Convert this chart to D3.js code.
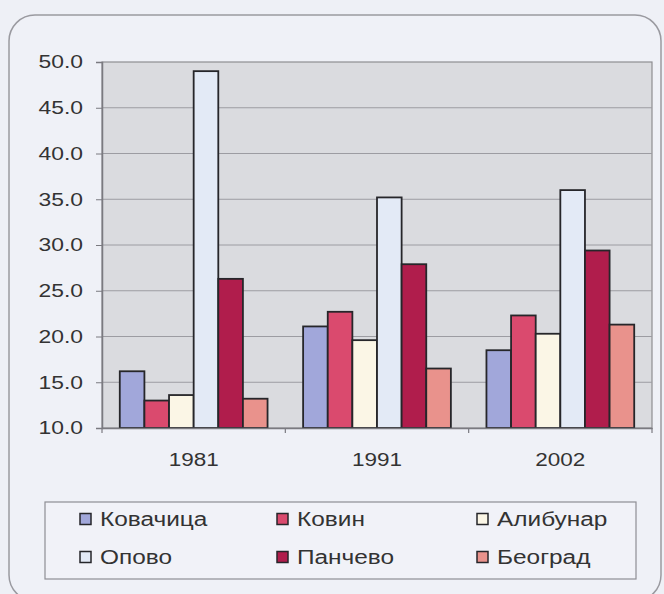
<!DOCTYPE html>
<html><head><meta charset="utf-8">
<script src="https://cdn.jsdelivr.net/npm/d3@7"></script>
<style>
html,body{margin:0;padding:0;background:#eef0f6;}
svg{display:block;}
text{font-family:"Liberation Sans",Arial,sans-serif;fill:#333;}
</style></head>
<body>
<svg id="chart" width="664" height="594"></svg>
<script>
const years = ["1981", "1991", "2002"];
const seriesNames = ["Ковачица", "Ковин", "Алибунар", "Опово", "Панчево", "Београд"];
const kovacica = [16.2, 21.1, 18.5];
const kovin = [13.0, 22.7, 22.3];
const alibunar = [13.6, 19.6, 20.3];
const opovo = [49.0, 35.2, 36.0];
const pancevo = [26.3, 27.9, 29.4];
const beograd = [13.2, 16.5, 21.3];
const yTicks = [10, 15, 20, 25, 30, 35, 40, 45, 50];
const colors = ["#a1a7da", "#da4a6e", "#fbf6e6", "#e3eaf6", "#b01d4c", "#e9928c"];

const seriesValues = [kovacica, kovin, alibunar, opovo, pancevo, beograd];

(function () {
const svg = d3.select("#chart");

function stretch(sel, k) {
  sel.each(function () {
    const w = this.getComputedTextLength();
    d3.select(this).attr("textLength", w * k).attr("lengthAdjust", "spacingAndGlyphs");
  });
}

// outer chart frame
svg.append("rect").attr("x", 9).attr("y", 15).attr("width", 652).attr("height", 586)
  .attr("rx", 26).attr("ry", 26).attr("fill", "#eff1f7").attr("stroke", "#9a9aa0").attr("stroke-width", 1.5);

const pL = 102, pR = 652, pT = 62, pB = 428;
const x = d3.scaleBand().domain(years).range([pL, pR]).paddingInner(0.194).paddingOuter(0.097);
const xs = d3.scaleBand().domain(seriesNames).range([0, x.bandwidth()]);
const y = d3.scaleLinear().domain([10, 50]).range([pB, pT]);

// plot background
svg.append("rect").attr("x", pL).attr("y", pT).attr("width", pR - pL).attr("height", pB - pT)
  .attr("fill", "#dadbdf").attr("stroke", "#8e8e92").attr("stroke-width", 1.2);

// gridlines
svg.append("g").selectAll("line").data(yTicks.filter(d => d > 10 && d < 50)).join("line")
  .attr("x1", pL).attr("x2", pR).attr("y1", d => y(d)).attr("y2", d => y(d))
  .attr("stroke", "#9c9ca2").attr("stroke-width", 1);

// y axis
const yAxis = svg.append("g").attr("transform", `translate(${pL},0)`)
  .call(d3.axisLeft(y).tickValues(yTicks).tickFormat(d3.format(".1f")).tickSize(6).tickPadding(13));
yAxis.select(".domain").attr("stroke", "#7a7a80").attr("stroke-width", 1.5);
yAxis.selectAll(".tick line").attr("stroke", "#7a7a80");
yAxis.selectAll("text").style("font-size", "18px").attr("fill", "#333").call(stretch, 1.27);

// bars
const groups = svg.append("g").selectAll("g").data(years).join("g")
  .attr("transform", d => `translate(${x(d)},0)`);
groups.selectAll("rect").data((d, i) => seriesNames.map((s, j) => ({s, v: seriesValues[j][i], c: colors[j]})))
  .join("rect")
  .attr("x", d => xs(d.s)).attr("width", xs.bandwidth())
  .attr("y", d => y(d.v)).attr("height", d => y(10) - y(d.v))
  .attr("fill", d => d.c).attr("stroke", "#26262a").attr("stroke-width", 1.8);

// x axis
const xAxis = svg.append("g").attr("transform", `translate(0,${pB})`)
  .call(d3.axisBottom(x).tickSize(0).tickPadding(25));
xAxis.select(".domain").attr("stroke", "#7a7a80").attr("stroke-width", 1.5);
xAxis.selectAll("text").style("font-size", "18px").attr("fill", "#333").call(stretch, 1.25);
// category separator ticks
const step = x.step();
svg.append("g").selectAll("line").data(years).join("line")
  .attr("x1", d => x(d) - x.paddingOuter() * step).attr("x2", d => x(d) - x.paddingOuter() * step)
  .attr("y1", pB).attr("y2", pB + 5).attr("stroke", "#7a7a80").attr("stroke-width", 1.2);
svg.append("line").attr("x1", pR).attr("x2", pR).attr("y1", pB).attr("y2", pB + 5)
  .attr("stroke", "#7a7a80").attr("stroke-width", 1.2);

// legend
const lg = svg.append("g");
lg.append("rect").attr("x", 45).attr("y", 502).attr("width", 591).attr("height", 77)
  .attr("fill", "#f1f2f8").attr("stroke", "#8e8e94").attr("stroke-width", 1.2);
const colX = [80, 277, 477];
const rowY = [519, 557];
const items = lg.selectAll("g").data(seriesNames).join("g")
  .attr("transform", (d, i) => `translate(${colX[i % 3]},${rowY[Math.floor(i / 3)]})`);
items.append("rect").attr("x", 0).attr("y", -5.5).attr("width", 11).attr("height", 11)
  .attr("fill", (d, i) => colors[i]).attr("stroke", "#26262a").attr("stroke-width", 1.5);
items.append("text").attr("x", 20).attr("y", 0).attr("dy", "0.35em")
  .style("font-size", "20px").text(d => d).call(stretch, 1.22);
})();
</script>
</body></html>
